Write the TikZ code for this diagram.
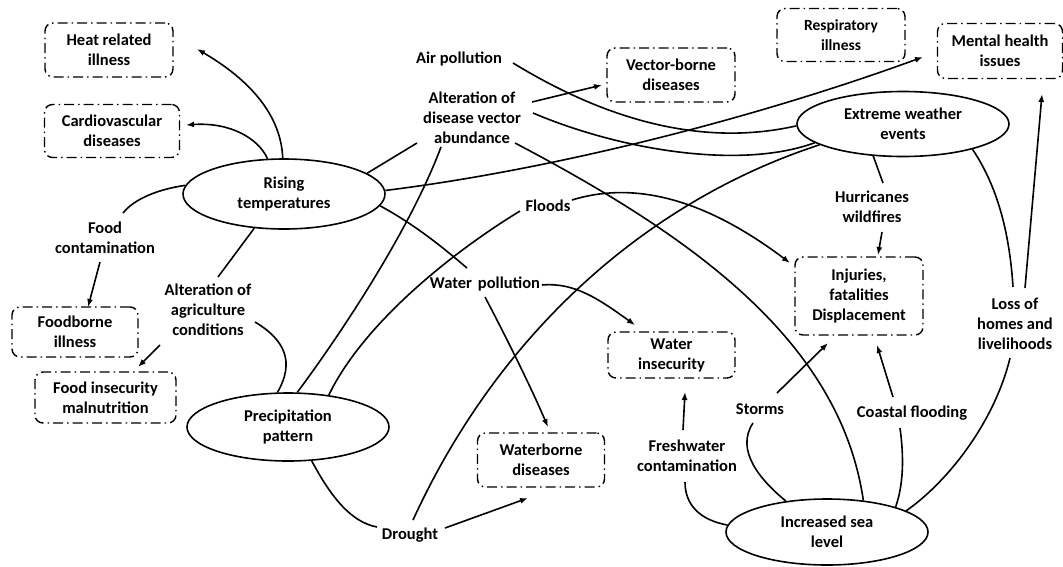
\documentclass[tikz,border=0pt]{standalone}
\usepackage{fontspec}
\setmainfont{Carlito}
\usetikzlibrary{shapes.geometric,arrows.meta,calc}
\begin{document}
\begin{tikzpicture}[x=1pt,y=-1pt,
  every node/.style={font=\bfseries\fontsize{16.5}{20}\selectfont, align=center, inner sep=0pt},
  box/.style={draw, rounded corners=8pt, line width=1.4pt, dash pattern=on 10pt off 4pt on 1.5pt off 4pt},
  oval/.style={draw, ellipse, line width=1.6pt},
  con/.style={line width=1.6pt},
  arr/.style={con, -{Latex[length=8pt,width=6pt]}}
]
\useasboundingbox (0,0) rectangle (1063,566);

% outcome boxes
\node[box, minimum width=128pt, minimum height=54pt] (heat) at (109,50) {Heat related\\illness};
\node[box, minimum width=135pt, minimum height=53pt] (cardio) at (112,131) {Cardiovascular\\diseases};
\node[box, minimum width=128pt, minimum height=54pt] (vector) at (671,75) {Vector-borne\\diseases};
\node[box, minimum width=128pt, minimum height=53pt, font=\bfseries\fontsize{15.5}{20}\selectfont] (resp) at (841,35) {Respiratory\\illness};
\node[box, minimum width=125pt, minimum height=55pt] (mental) at (1000,51) {Mental health\\issues};
\node[box, minimum width=126pt, minimum height=50pt] (foodb) at (75,332) {Foodborne\\illness};
\node[box, minimum width=141pt, minimum height=51pt] (foodins) at (105.5,397.5) {Food insecurity\\malnutrition};
\node[box, minimum width=127pt, minimum height=46pt] (waterins) at (671.5,355) {Water\\insecurity};
\node[box, minimum width=128pt, minimum height=78pt] (injuries) at (859,296) {Injuries,\\fatalities\\Displacement};
\node[box, minimum width=127pt, minimum height=54pt] (waterborne) at (541,460) {Waterborne\\diseases};

% drivers
\node[oval, minimum width=202pt, minimum height=70pt] (rise) at (284,194) {Rising\\temperatures};
\node[oval, minimum width=212pt, minimum height=65pt] (extreme) at (903,124) {Extreme weather\\events};
\node[oval, minimum width=202pt, minimum height=68pt] (precip) at (288,427) {Precipitation\\pattern};
\node[oval, minimum width=202pt, minimum height=66pt] (sea) at (827,532) {Increased sea\\level};

% pathway labels
\node (air) at (459,59) {Air pollution};
\node (dva) at (472,118) {Alteration of\\disease vector\\abundance};
\node (foodc) at (105,238) {Food\\contamination};
\node (agri) at (208,310) {Alteration of\\agriculture\\conditions};
\node (floods) at (548,206) {Floods};
\node (wpol) at (485,284) {Water\hspace{6pt}pollution};
\node (hurr) at (872,207) {Hurricanes\\wildfires};
\node (loss) at (1015,324) {Loss of\\homes and\\livelihoods};
\node (storms) at (760,409) {Storms};
\node (coastal) at (912,413) {Coastal flooding};
\node (fresh) at (687,456) {Freshwater\\contamination};
\node (drought) at (410,535) {Drought};

% rising temperatures
\draw[arr] (rise.92) .. controls (281,115) and (250,80) .. ($(heat)+(88,-1)$);
\draw[arr] (rise.115) .. controls (258,138) and (230,122) .. ($(cardio)+(74,-6)$);
\draw[con] ($(foodc)+(18,-25)$) .. controls (135,198) and (160,189) .. (rise.175);
\draw[arr] ($(foodc)+(-5,24)$) -- ($(foodb)+(13,-25)$);
\draw[con] (rise.229) -- ($(agri)+(10,-33)$);
\draw[arr] ($(agri)+(-48,35)$) -- ($(foodins)+(32.5,-30.5)$);
\draw[con] (rise.14) -- ($(dva)+(-55,25)$);
\draw[arr] (rise.2) .. controls (550,170) and (750,120) .. ($(mental)+(-77,6)$);
\draw[con] (rise.353) .. controls (415,225) and (440,245) .. ($(wpol)+(-18,-16)$);

% precipitation pattern
\draw[con] ($(agri)+(47,12)$) .. controls (285,340) and (295,362) .. (precip.107);
\draw[con] ($(dva)+(-31,29)$) .. controls (410,230) and (340,335) .. (precip.75);
\draw[con] ($(floods)+(-28,5)$) .. controls (440,260) and (360,330) .. (precip.38);
\draw[con] (precip.305) .. controls (330,495) and (350,522) .. ($(drought)+(-33,-8)$);

% disease vector abundance
\draw[arr] ($(dva)+(60,-16)$) -- ($(vector)+(-69,10)$);
\draw[con] ($(dva)+(61,-5)$) .. controls (620,150) and (740,170) .. (extreme.192);
\draw[con] ($(dva)+(43,25)$) .. controls (690,235) and (840,340) .. (sea.41);

% extreme weather events
\draw[con] ($(air)+(54,4)$) .. controls (590,110) and (690,150) .. (extreme.181);
\draw[con] (extreme.194) .. controls (650,200) and (500,330) .. ($(drought)+(3,-15)$);
\draw[con] (extreme.227) -- ($(hurr)+(11,-24)$);
\draw[arr] ($(hurr)+(10,25)$) -- ($(injuries)+(19,-41)$);
\draw[con] (extreme.340) .. controls (1000,190) and (1010,240) .. ($(loss)+(-2,-37)$);
\draw[arr] ($(loss)+(10,-36)$) -- ($(mental)+(42,43)$);

% floods, water pollution, drought
\draw[arr] ($(floods)+(24,-6)$) .. controls (630,182) and (700,195) .. ($(injuries)+(-69,-33)$);
\draw[arr] ($(wpol)+(57,1)$) .. controls (575,282) and (600,300) .. ($(waterins)+(-36.5,-30)$);
\draw[arr] ($(wpol)+(0,13)$) .. controls (505,335) and (530,385) .. ($(waterborne)+(7,-33)$);
\draw[arr] ($(drought)+(35,-7)$) -- ($(waterborne)+(-13,38)$);

% increased sea level
\draw[con] ($(loss)+(-5,34)$) .. controls (995,420) and (950,480) .. (sea.15);
\draw[con] (sea.20) .. controls (905,480) and (903,450) .. ($(coastal)+(-12,15)$);
\draw[arr] ($(coastal)+(-19,-16)$) -- ($(injuries)+(18,49)$);
\draw[con] (sea.143) .. controls (760,480) and (735,450) .. ($(storms)+(-7,14)$);
\draw[arr] ($(storms)+(17,-16)$) -- ($(injuries)+(-31,47)$);
\draw[con] (sea.176) .. controls (700,520) and (685,505) .. ($(fresh)+(-2,26)$);
\draw[arr] ($(fresh)+(-4,-26)$) -- ($(waterins)+(13.5,37)$);
\end{tikzpicture}
\end{document}
